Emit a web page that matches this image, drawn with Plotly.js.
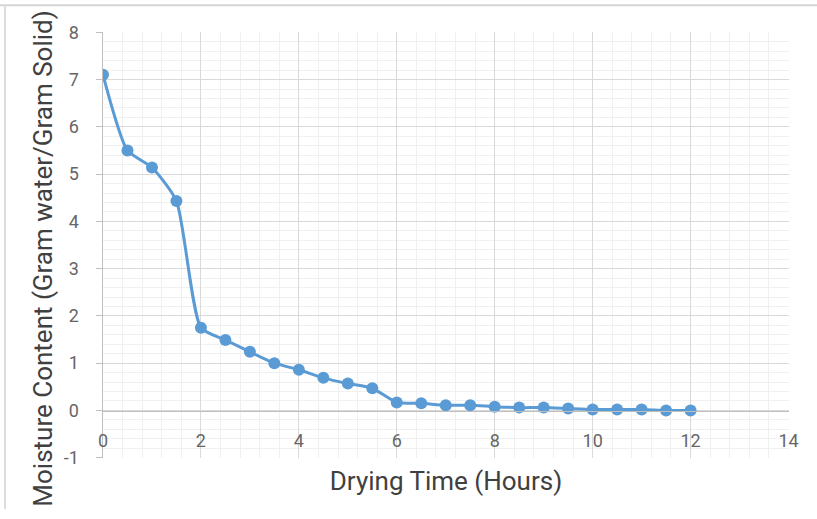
<!DOCTYPE html>
<html>
<head>
<meta charset="utf-8">
<script src="https://cdn.plot.ly/plotly-3.0.1.min.js"></script>
<style>html,body{margin:0;padding:0;background:#fff;}#chart{width:817px;height:519px;}</style>
</head>
<body>
<div id="chart"></div>
<script>
const dryingTime = [0, 0.5, 1, 1.5, 2, 2.5, 3, 3.5, 4, 4.5, 5, 5.5, 6, 6.5, 7, 7.5, 8, 8.5, 9, 9.5, 10, 10.5, 11, 11.5, 12];
const moisture = [7.1, 5.5, 5.14, 4.43, 1.75, 1.49, 1.24, 1.0, 0.86, 0.69, 0.57, 0.47, 0.17, 0.15, 0.11, 0.11, 0.08, 0.06, 0.06, 0.04, 0.02, 0.02, 0.02, 0.0, 0.0];
const xTickVals = [0, 2, 4, 6, 8, 10, 12, 14];
const xTickLabels = ['0', '2', '4', '6', '8', '10', '12', '14'];
const yTickVals = [-1, 0, 1, 2, 3, 4, 5, 6, 7, 8];
const yTickLabels = ['-1', '0', '1', '2', '3', '4', '5', '6', '7', '8'];
const xTitle = 'Drying Time (Hours)';
const yTitle = 'Moisture Content (Gram water/Gram Solid)';

const trace = {
  x: dryingTime, y: moisture, type: 'scatter', mode: 'lines+markers',
  line: {color: '#5b9bd5', width: 3, shape: 'spline', smoothing: 0.6},
  marker: {color: '#5b9bd5', size: 12},
  hoverinfo: 'x+y'
};

const layout = {
  width: 817, height: 519,
  margin: {l: 103, r: 28, t: 32, b: 61},
  paper_bgcolor: '#fff', plot_bgcolor: '#fff',
  showlegend: false,
  font: {family: 'Roboto, sans-serif', color: '#666', size: 18},
  xaxis: {
    range: [0, 14.01],
    tickmode: 'array', tickvals: xTickVals, ticktext: xTickLabels,
    anchor: 'free', position: 1/9,
    showline: true, linecolor: '#bfbfbf', linewidth: 1.5,
    zeroline: false,
    showgrid: true, gridcolor: '#d9d9d9', gridwidth: 1,
    minor: {tickmode: 'linear', tick0: 0, dtick: 0.4, showgrid: true, gridcolor: '#f0f0f0', gridwidth: 1},
    ticks: 'outside', ticklen: 13, tickcolor: 'rgba(0,0,0,0)',
    tickfont: {family: 'Roboto, sans-serif', size: 18, color: '#666'},
    title: {text: xTitle, font: {family: 'Roboto, sans-serif', size: 26, color: '#404040'}, standoff: 22},
    fixedrange: true
  },
  yaxis: {
    range: [-1.006, 8.006],
    tickmode: 'array', tickvals: yTickVals, ticktext: yTickLabels,
    showline: true, linecolor: '#bfbfbf', linewidth: 1.5,
    zeroline: false,
    showgrid: true, gridcolor: '#d9d9d9', gridwidth: 1,
    minor: {tickmode: 'linear', tick0: 0, dtick: 0.2, showgrid: true, gridcolor: '#f0f0f0', gridwidth: 1},
    ticks: 'outside', ticklen: 6, tickcolor: '#bfbfbf',
    ticklabelstandoff: 13,
    tickfont: {family: 'Roboto, sans-serif', size: 18, color: '#666'},
    fixedrange: true
  },
  annotations: [
    {text: yTitle, xref: 'paper', yref: 'paper', x: -0.088, y: 0.467, textangle: -90,
     showarrow: false, xanchor: 'center', yanchor: 'middle',
     font: {family: 'Roboto, sans-serif', size: 26, color: '#404040'}}
  ],
  shapes: [
    {type: 'line', xref: 'paper', yref: 'paper', x0: -0.16, x1: 1.05, y0: 1.063, y1: 1.063, line: {color: '#d4d4d4', width: 2}},
    {type: 'line', xref: 'paper', yref: 'paper', x0: -0.1429, x1: -0.1429, y0: 1.063, y1: -0.12, line: {color: '#dcdcdc', width: 2}}
  ]
};

Plotly.newPlot('chart', [trace], layout, {displayModeBar: false, staticPlot: true});
</script>
</body>
</html>
